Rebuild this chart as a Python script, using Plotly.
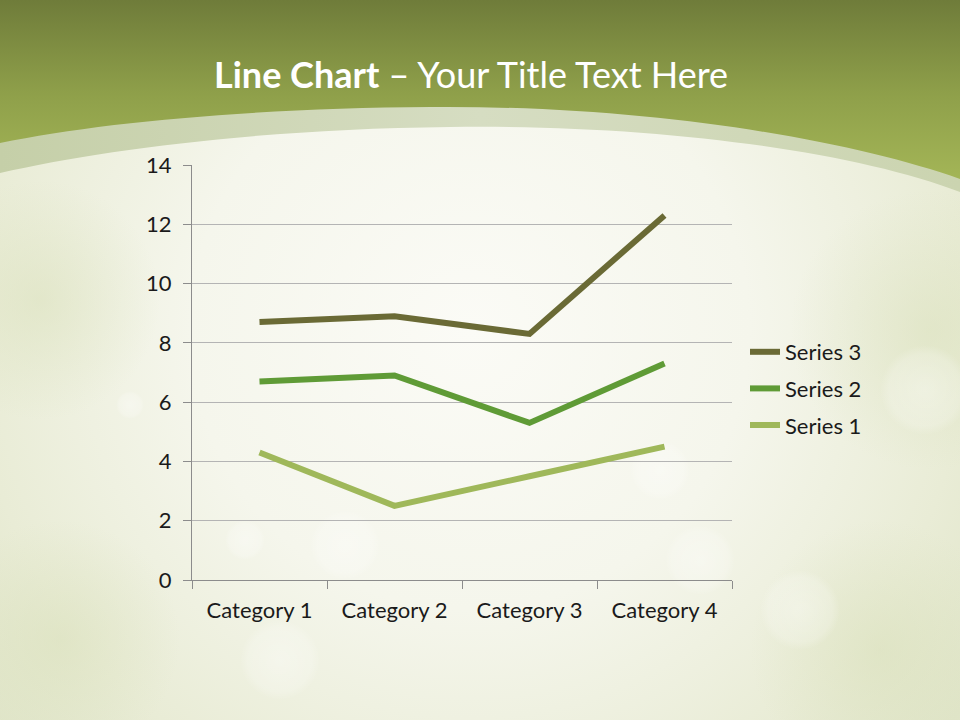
import base64
import plotly.graph_objects as go

categories = ["Category 1", "Category 2", "Category 3", "Category 4"]
series1 = [4.3, 2.5, 3.5, 4.5]
series2 = [2.4, 4.4, 1.8, 2.8]
series3 = [2.0, 2.0, 3.0, 5.0]
y_ticks = [0, 2, 4, 6, 8, 10, 12, 14]

series_names = ["Series 1", "Series 2", "Series 3"]
series_colors = ["#9fb85a", "#5f9b36", "#6a6a35"]
legend_ranks = [3, 2, 1]

W, H = 960, 720
L, R, T, B = 192, 732, 165, 580

svg = f'''<svg xmlns="http://www.w3.org/2000/svg" width="{W}" height="{H}" viewBox="0 0 {W} {H}">
<defs>
<radialGradient id="bg" cx="470" cy="330" r="620" gradientUnits="userSpaceOnUse">
<stop offset="0" stop-color="#fbfbf6"/>
<stop offset="0.45" stop-color="#f5f6ec"/>
<stop offset="0.8" stop-color="#e9ecd6"/>
<stop offset="1" stop-color="#e0e5c9"/>
</radialGradient>
<linearGradient id="gr" x1="0" y1="0" x2="0" y2="190" gradientUnits="userSpaceOnUse">
<stop offset="0" stop-color="#6f7c3a"/>
<stop offset="0.5" stop-color="#8fa04a"/>
<stop offset="1" stop-color="#a6b858"/>
</linearGradient>
<linearGradient id="band" x1="0" y1="0" x2="960" y2="0" gradientUnits="userSpaceOnUse">
<stop offset="0" stop-color="#c5cfa8"/>
<stop offset="0.5" stop-color="#d6ddc2"/>
<stop offset="1" stop-color="#cbd4b0"/>
</linearGradient>
<radialGradient id="blob">
<stop offset="0" stop-color="#ffffff" stop-opacity="0.35"/>
<stop offset="0.8" stop-color="#ffffff" stop-opacity="0.2"/>
<stop offset="1" stop-color="#ffffff" stop-opacity="0"/>
</radialGradient>
<radialGradient id="gblob">
<stop offset="0" stop-color="#d8dfb8" stop-opacity="0.5"/>
<stop offset="1" stop-color="#d8dfb8" stop-opacity="0"/>
</radialGradient>
</defs>
<rect x="0" y="0" width="{W}" height="{H}" fill="url(#bg)"/>
<circle cx="40" cy="300" r="120" fill="url(#gblob)"/>
<circle cx="930" cy="330" r="140" fill="url(#gblob)"/>
<circle cx="880" cy="650" r="130" fill="url(#gblob)"/>
<circle cx="60" cy="640" r="120" fill="url(#gblob)"/>
<circle cx="245" cy="540" r="20" fill="url(#blob)"/>
<circle cx="130" cy="405" r="14" fill="url(#blob)"/>
<circle cx="345" cy="545" r="35" fill="url(#blob)"/>
<circle cx="660" cy="470" r="30" fill="url(#blob)"/>
<circle cx="800" cy="610" r="40" fill="url(#blob)"/>
<circle cx="925" cy="390" r="45" fill="url(#blob)"/>
<circle cx="280" cy="660" r="40" fill="url(#blob)"/>
<circle cx="700" cy="560" r="35" fill="url(#blob)"/>
<path d="M0,0 H960 V192 C850,150 650,124 450,127 C260,129 100,150 0,173 Z" fill="url(#band)"/>
<path d="M0,0 H960 V179 C850,140 650,105 430,107 C260,108 100,122 0,143 Z" fill="url(#gr)"/>
</svg>'''
src = "data:image/svg+xml;base64," + base64.b64encode(svg.encode()).decode()

fig = go.Figure()
for name, vals, col, rk in zip(series_names, [series1, series2, series3], series_colors, legend_ranks):
    fig.add_trace(go.Scatter(
        x=categories, y=vals, name=name, mode="lines",
        stackgroup="one", fill="none", legendgroup=name, legendrank=rk,
        line=dict(color=col, width=6),
    ))

pw, ph = R - L, B - T
fig.add_layout_image(dict(
    source=src, xref="paper", yref="paper",
    x=-L / pw, y=B / ph, sizex=W / pw, sizey=H / ph,
    xanchor="left", yanchor="top", sizing="stretch", layer="below",
))

font_family = "Lato, 'Open Sans', sans-serif"
fig.add_annotation(
    text="<b>Line Chart</b> – Your Title Text Here",
    xref="paper", yref="paper",
    x=(471 - L) / pw, y=(B - 74) / ph,
    xanchor="center", yanchor="middle", showarrow=False,
    font=dict(family=font_family, size=36, color="#ffffff"),
)

fig.update_layout(
    width=W, height=H,
    margin=dict(l=L, r=W - R, t=T, b=H - B, pad=0),
    paper_bgcolor="#f4f5ea", plot_bgcolor="rgba(0,0,0,0)",
    font=dict(family=font_family, size=22, color="#1a1a1a"),
    showlegend=True,
    legend=dict(
        x=(745 - L) / pw, y=(B - 331) / ph, xanchor="left", yanchor="top",
        traceorder="grouped", tracegroupgap=5,
        bgcolor="rgba(0,0,0,0)", font=dict(size=22, color="#1a1a1a"),
    ),
    xaxis=dict(
        type="category", range=[-0.5, 3.5], tickson="boundaries",
        showline=True, linecolor="#8c8c8c", linewidth=1,
        ticks="outside", ticklen=8, tickcolor="#8c8c8c",
        showgrid=False, zeroline=False, ticklabelstandoff=11,
    ),
    yaxis=dict(
        range=[0, 14], tickvals=y_ticks,
        showline=True, linecolor="#8c8c8c", linewidth=1,
        ticks="outside", ticklen=8, tickcolor="#8c8c8c",
        showgrid=True, gridcolor="#b4b4b4", gridwidth=1,
        zeroline=False, ticklabelstandoff=7,
    ),
)

fig.write_html("out.html", config={"displayModeBar": False},
               post_script="document.body.style.margin='0';")
